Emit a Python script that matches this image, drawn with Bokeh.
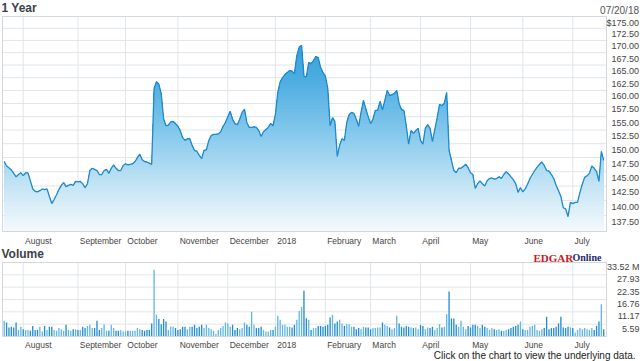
import numpy as np
from bokeh.plotting import figure
from bokeh.models import ColumnDataSource, Range1d, LinearScale
from bokeh.core.properties import value
from bokeh.embed import file_html
from bokeh.resources import INLINE

# ---------------- data ----------------
as_of_label = "07/20/18"
month_labels = ["August", "September", "October", "November", "December", "2018",
                "February", "March", "April", "May", "June", "July"]
# trading-day index of the first session of each month
month_start = [8, 31, 51, 73, 94, 114, 135, 154, 175, 196, 218, 239]

price_ticks = [137.5, 140.0, 142.5, 145.0, 147.5, 150.0, 152.5, 155.0,
               157.5, 160.0, 162.5, 165.0, 167.5, 170.0, 172.5, 175.0]
price_tick_labels = ["137.50", "140.00", "142.50", "145.00", "147.50", "150.00",
                     "152.50", "155.00", "157.50", "160.00", "162.50", "165.00",
                     "167.50", "170.00", "172.50", "$175.00"]
volume_ticks = [5.59, 11.17, 16.76, 22.35, 27.93, 33.52]
volume_tick_labels = ["5.59", "11.17", "16.76", "22.35", "27.93", "33.52 M"]

close = [
    146.8, 146.0, 145.7, 145.3, 144.7, 144.1, 144.5, 144.8, 144.3, 144.8,
    144.8, 143.4, 142.0, 141.6, 141.5, 141.7, 142.0, 141.9, 142.0, 140.7,
    139.5, 140.2, 141.0, 141.9, 142.6, 143.1, 142.4, 142.6, 142.8, 142.6,
    143.3, 143.2, 143.3, 142.9, 142.2, 142.9, 145.2, 145.6, 145.4, 145.2,
    144.5, 144.5, 145.2, 145.4, 144.7, 145.6, 146.2, 145.6, 145.2, 145.2,
    146.1, 146.4, 146.2, 146.3, 146.4, 146.8, 147.5, 148.1, 147.1, 146.8,
    146.7, 146.5, 146.3, 160.4, 161.7, 161.2, 159.4, 154.6, 153.3, 153.4,
    154.0, 154.1, 153.7, 153.2, 152.4, 151.1, 150.6, 150.9, 150.9, 149.7,
    148.8, 148.6, 147.9, 147.3, 148.8, 148.9, 150.6, 151.5, 151.7, 151.7,
    151.8, 152.2, 153.2, 153.9, 155.0, 156.0, 154.5, 153.7, 153.5, 154.5,
    155.8, 156.4, 153.9, 153.0, 153.0, 153.1, 153.0, 152.4, 151.3, 152.2,
    152.6, 153.0, 153.7, 153.3, 155.4, 159.6, 161.7, 162.5, 163.1, 163.5,
    163.9, 163.8, 163.3, 166.9, 168.6, 169.0, 162.8, 162.6, 165.5, 165.3,
    165.9, 166.7, 166.5, 164.5, 163.5, 162.8, 160.4, 153.3, 154.8, 154.1,
    147.7, 149.7, 150.9, 150.6, 153.9, 155.4, 155.8, 155.6, 154.5, 153.2,
    155.8, 158.1, 156.5, 155.0, 153.7, 154.5, 156.2, 156.2, 157.9, 156.3,
    158.1, 160.0, 159.0, 159.2, 159.4, 160.0, 157.5, 156.3, 156.2, 153.3,
    149.9, 152.4, 151.9, 152.4, 152.8, 150.6, 149.9, 152.8, 153.5, 152.8,
    150.4, 152.6, 154.8, 157.3, 157.1, 157.5, 159.6, 148.8, 147.0, 145.2,
    144.8, 145.6, 145.6, 145.9, 146.3, 145.7, 144.8, 144.5, 142.1, 142.9,
    143.4, 142.9, 142.5, 143.4, 143.8, 143.9, 143.7, 143.8, 144.1, 143.8,
    144.5, 145.0, 144.6, 144.1, 143.6, 142.9, 141.4, 142.2, 141.5, 142.0,
    142.8, 143.8, 144.5, 145.2, 145.8, 146.3, 146.7, 146.1, 145.2, 145.1,
    144.5, 143.8, 142.6, 141.7, 140.7, 138.8, 138.6, 137.3, 139.7, 139.5,
    139.7, 139.7, 141.4, 142.8, 144.0, 144.3, 144.7, 146.0, 145.6, 145.0,
    143.3, 148.6, 147.0,
]

volume_m = [
    7.1, 6.3, 4.1, 4.4, 4.1, 6.3, 3.0, 4.4, 3.3, 3.0,
    3.0, 2.6, 4.8, 3.0, 3.0, 4.4, 2.3, 4.8, 3.0, 4.4,
    4.4, 3.0, 2.6, 3.8, 3.3, 2.6, 5.3, 3.0, 2.6, 3.3,
    3.3, 3.0, 3.0, 4.4, 3.8, 4.8, 5.3, 3.8, 3.8, 7.1,
    3.0, 3.8, 5.6, 2.6, 2.6, 5.3, 3.8, 2.6, 2.6, 3.0,
    2.3, 2.3, 2.6, 2.6, 2.6, 2.6, 3.8, 3.3, 3.0, 2.6,
    3.0, 3.0, 5.9, 30.2, 9.8, 7.9, 5.6, 7.9, 6.8, 3.0,
    4.5, 4.4, 3.8, 3.0, 3.3, 4.4, 4.4, 3.3, 4.4, 4.4,
    5.3, 3.8, 4.4, 5.3, 3.8, 5.3, 3.8, 3.3, 2.6, 1.1,
    3.0, 3.8, 4.8, 6.3, 5.9, 4.4, 5.3, 3.0, 3.8, 3.3,
    3.8, 6.3, 5.3, 4.4, 11.2, 5.3, 3.8, 3.8, 4.4, 3.0,
    2.3, 2.3, 3.0, 3.0, 4.4, 9.4, 7.6, 5.3, 5.3, 4.4,
    4.4, 4.1, 5.3, 7.6, 11.6, 13.4, 20.7, 8.3, 7.6, 3.0,
    3.8, 3.8, 4.8, 4.8, 4.4, 4.8, 5.3, 8.6, 9.8, 5.9,
    6.8, 7.6, 5.9, 4.8, 5.6, 5.6, 4.4, 4.4, 3.3, 3.8,
    3.3, 4.4, 4.1, 4.1, 3.3, 3.8, 3.8, 4.1, 4.1, 6.3,
    5.3, 4.8, 4.1, 3.3, 3.8, 9.4, 5.9, 4.4, 4.1, 4.8,
    4.4, 4.1, 3.8, 4.1, 3.3, 5.3, 4.8, 3.3, 4.1, 3.8,
    4.4, 2.9, 3.8, 5.6, 4.1, 4.4, 10.1, 20.4, 8.2, 8.2,
    5.3, 4.4, 7.1, 4.4, 3.3, 4.8, 4.1, 5.3, 5.3, 4.8,
    3.8, 5.3, 4.4, 3.8, 3.0, 3.8, 3.3, 3.0, 3.3, 2.6,
    2.6, 3.0, 3.3, 3.8, 4.4, 4.8, 5.3, 6.8, 3.3, 3.0,
    3.0, 4.4, 4.8, 5.3, 3.0, 2.6, 3.3, 3.8, 8.9, 3.3,
    3.8, 3.8, 4.4, 5.9, 8.9, 4.1, 3.8, 4.4, 4.1, 3.8,
    1.8, 3.0, 3.8, 3.3, 3.8, 3.3, 3.0, 3.8, 3.0, 4.8,
    6.8, 14.6, 3.3,
]

# ---------------- layout (pixel geometry of the canvas) ----------------
W, H = 640, 361
X0_PX, XPX = 3.7, 2.379          # pixel of first session, pixels per session
PANEL_L, PANEL_R = 2, 606
P_TOP_PX, P_BOT_PX = 16, 231
V_TOP_PX, V_BOT_PX = 262, 336
P_HI, P_LO = 175.0, 134.86
V_HI = 33.52


def px_x(px):
    return (px - X0_PX) / XPX


LP = (np.log(P_HI) - np.log(P_LO)) / (P_BOT_PX - P_TOP_PX)


def px_p(py):
    return float(np.exp(np.log(P_HI) - (py - P_TOP_PX) * LP))


LV = V_HI / (V_BOT_PX - V_TOP_PX)


def px_v(py):
    return V_HI - (py - V_TOP_PX) * LV


GRID = "#e1e5eb"
OUTLINE = "#d2d7de"
TXT = "#444444"
TITLE_C = "#3b414c"
SANS = "Liberation Sans"
SERIF = "Liberation Serif"
LINE_C = "#1c8ace"
UP_C, DOWN_C = "#62b6e4", "#1f8bd0"

N = len(close)
idx = np.arange(N)
XL, XR = px_x(PANEL_L), px_x(PANEL_R)

p = figure(width=W, height=H, x_range=Range1d(px_x(0), px_x(W)),
           y_range=Range1d(px_p(H), px_p(0)), y_axis_type="log",
           extra_y_ranges={"vol": Range1d(px_v(H), px_v(0))},
           extra_y_scales={"vol": LinearScale()},
           x_axis_location=None, y_axis_location=None, title=None,
           toolbar_location=None, output_backend="svg",
           min_border=0, min_border_left=0, min_border_right=0,
           min_border_top=0, min_border_bottom=0,
           background_fill_color="white", border_fill_color="white",
           outline_line_color=None)
p.xgrid.visible = False
p.ygrid.visible = False

# ---- price panel grid ----
p.segment(x0=[XL] * len(price_ticks), x1=[XR] * len(price_ticks),
          y0=price_ticks, y1=price_ticks, line_color=GRID, line_width=1)
p.segment(x0=month_start, x1=month_start, y0=[P_LO] * len(month_start),
          y1=[P_HI] * len(month_start), line_color=GRID, line_width=1)


# ---- gradient area under the price line ----
def capped(x, L, c):
    xs, ls = [float(x[0])], [min(L[0], c)]
    for i in range(len(x) - 1):
        a, b = L[i], L[i + 1]
        if (a - c) * (b - c) < 0:
            t = (c - a) / (b - a)
            xs.append(float(x[i] + t * (x[i + 1] - x[i])))
            ls.append(c)
        xs.append(float(x[i + 1]))
        ls.append(min(b, c))
    return np.array(xs), np.array(ls)


stops_t = [0.0, 0.3, 0.55, 0.8, 1.0]
stops_c = [(40, 148, 210), (78, 174, 226), (135, 202, 237), (200, 230, 246), (246, 250, 253)]


def grad(t):
    r = np.interp(t, stops_t, [c[0] for c in stops_c])
    g = np.interp(t, stops_t, [c[1] for c in stops_c])
    b = np.interp(t, stops_t, [c[2] for c in stops_c])
    return "#%02x%02x%02x" % (int(r), int(g), int(b))


L = np.log(np.asarray(close, dtype=float))
lo, hi = np.log(P_LO), np.log(P_HI)
NB = 70
edges = np.linspace(lo, hi, NB + 1)
for k in range(NB - 1, -1, -1):
    xs, ls = capped(idx, L, edges[k + 1])
    t = (hi - 0.5 * (edges[k] + edges[k + 1])) / (hi - lo)
    p.varea(x=xs, y1=np.full(len(xs), P_LO), y2=np.exp(ls), fill_color=grad(t))

p.line(idx, close, line_color=LINE_C, line_width=1.3)
p.quad(left=[XL], right=[XR], bottom=[P_LO], top=[P_HI], fill_color=None,
       line_color=OUTLINE, line_width=1)

# ---- volume panel ----
p.segment(x0=[XL] * len(volume_ticks), x1=[XR] * len(volume_ticks),
          y0=volume_ticks, y1=volume_ticks, line_color=GRID, line_width=1,
          y_range_name="vol")
p.segment(x0=month_start, x1=month_start, y0=[0] * len(month_start),
          y1=[V_HI] * len(month_start), line_color=GRID, line_width=1,
          y_range_name="vol")
bar_colors = [UP_C if i == 0 or close[i] >= close[i - 1] else DOWN_C for i in range(N)]
src_v = ColumnDataSource(dict(x=idx, top=volume_m, c=bar_colors))
p.vbar(x="x", top="top", bottom=0, width=0.55, source=src_v, fill_color="c",
       line_color=None, y_range_name="vol")
p.quad(left=[XL], right=[XR], bottom=[0], top=[V_HI], fill_color=None,
       line_color=OUTLINE, line_width=1, y_range_name="vol")

# ---- texts ----
def txt(x, y, text, size, color=TXT, align="left", baseline="middle", font=SANS,
        style="normal", y_offset=0, x_offset=0, rng="default"):
    p.text(x=x, y=y, text=text, text_font=value(font), text_font_size=value(size),
           text_color=color, text_align=align, text_baseline=baseline,
           text_font_style=style, y_offset=y_offset, x_offset=x_offset,
           y_range_name=rng)


txt([px_x(1)], [px_p(7.5)], ["1 Year"], "12px", color=TITLE_C, style="bold")
txt([px_x(638.5)], [px_p(9.5)], [as_of_label], "10px", color="#555555", align="right")
txt([px_x(638.5)] * len(price_ticks), price_ticks, price_tick_labels, "9px",
    align="right", y_offset=6)
txt(month_start, [px_p(240)] * len(month_start), month_labels, "8.5px", x_offset=1.8)

txt([px_x(1)], [px_v(253)], ["Volume"], "12px", color=TITLE_C, style="bold", rng="vol")
txt([px_x(533)], [px_v(257)], ["EDGAR"], "11px", color="#d1141b", baseline="alphabetic",
    font=SERIF, style="bold", rng="vol")
txt([px_x(572)], [px_v(257)], ["Online"], "10px", color="#1b2a6e", baseline="alphabetic",
    font=SERIF, style="bold", rng="vol")
txt([px_x(639)] * len(volume_ticks), volume_ticks, volume_tick_labels, "9px",
    align="right", y_offset=4.5, rng="vol")
txt(month_start, [px_v(344)] * len(month_start), month_labels, "8.5px", x_offset=1.8,
    rng="vol")
txt([px_x(635)], [px_v(355)], ["Click on the chart to view the underlying data."],
    "10px", color="#222222", align="right", rng="vol")

open("out.html", "w").write(file_html(p, INLINE))
